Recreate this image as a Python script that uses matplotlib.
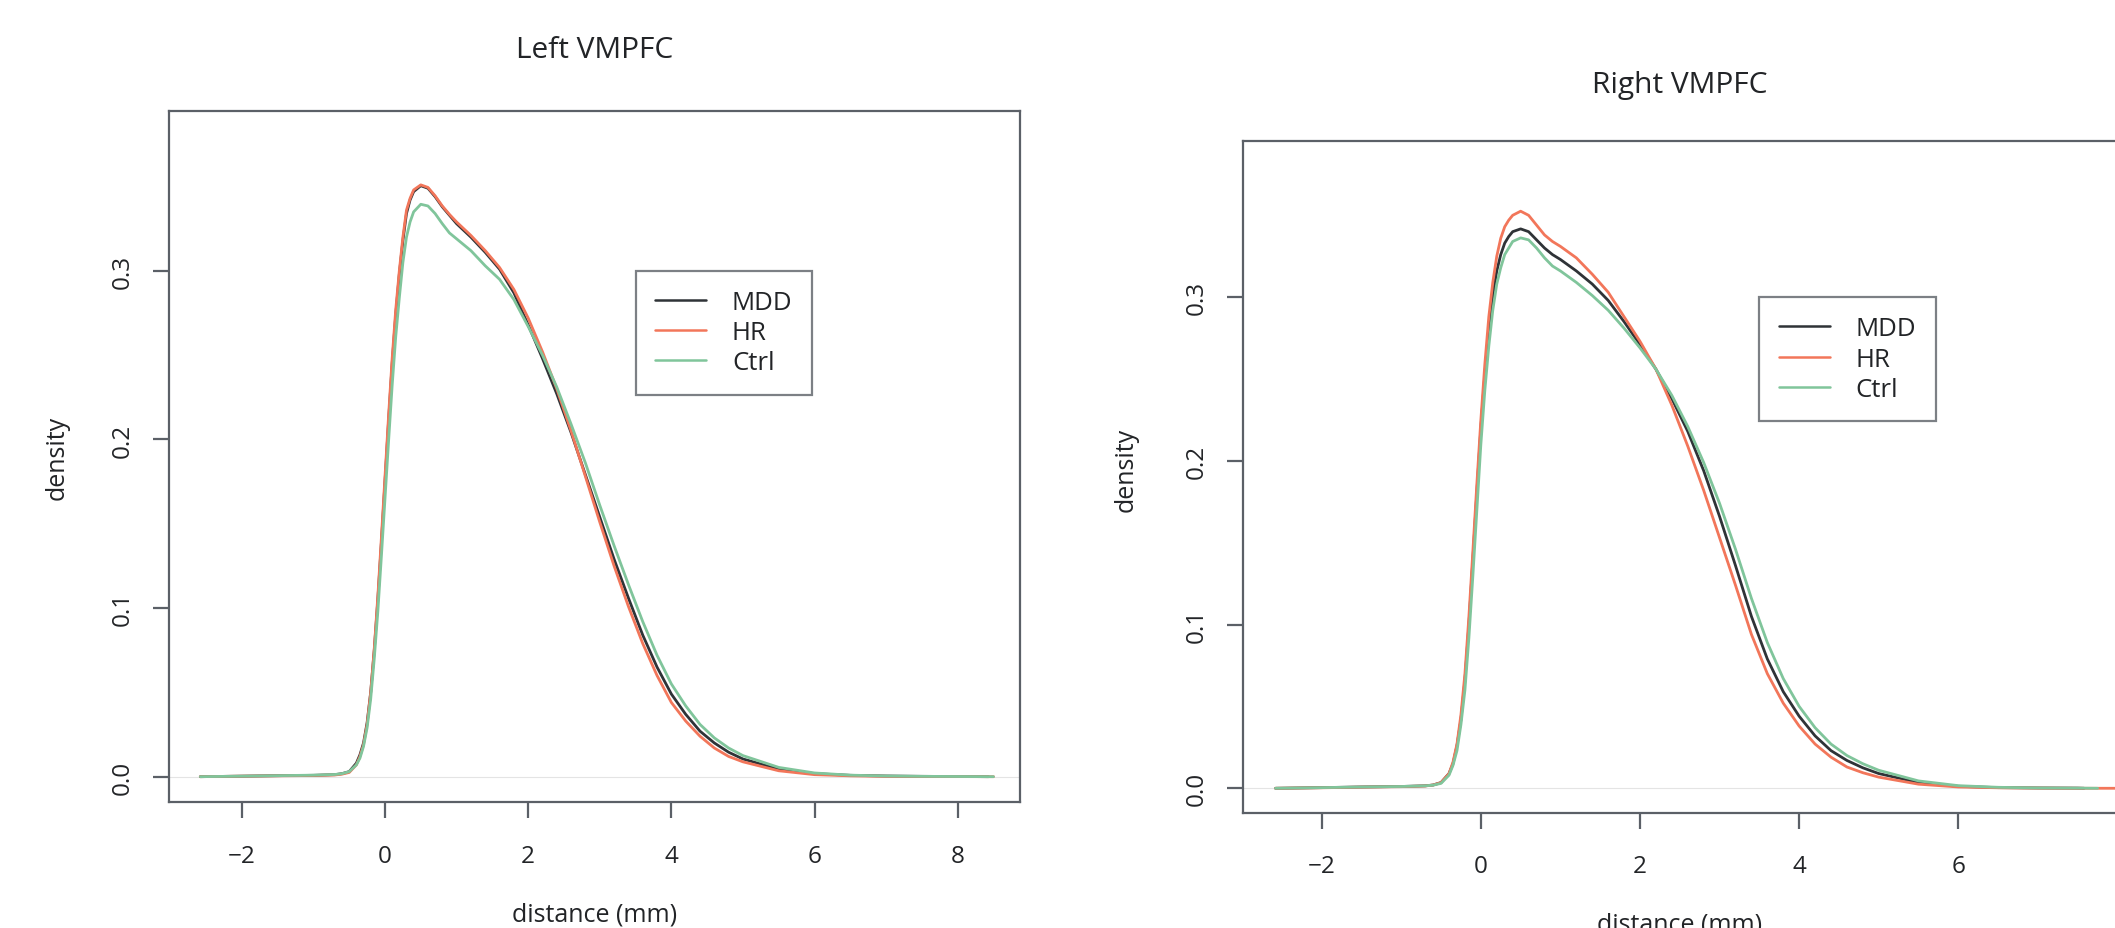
import matplotlib
matplotlib.use("Agg")
import matplotlib.pyplot as plt

plt.rcParams['font.family'] = ['Open Sans', 'DejaVu Sans']

# ---------------- data ----------------
groups = ["MDD", "HR", "Ctrl"]
colors = {"MDD": "#2f3337", "HR": "#f2765a", "Ctrl": "#80c59b"}

grid = [-2.58, -2.0, -1.5, -1.0, -0.7, -0.6, -0.5, -0.4, -0.35, -0.3,
        -0.25, -0.2, -0.15, -0.1, -0.05, 0.0, 0.05, 0.1, 0.15, 0.2,
        0.25, 0.3, 0.35, 0.4, 0.5, 0.6, 0.7, 0.8, 0.9,
        1.0, 1.2, 1.4, 1.6, 1.8, 2.0, 2.2, 2.4, 2.6, 2.8,
        3.0, 3.2, 3.4, 3.6, 3.8, 4.0, 4.2, 4.4, 4.6, 4.8,
        5.0, 5.5, 6.0, 6.5, 7.0, 7.5]

left_end = {"MDD": 8.43, "HR": 8.50, "Ctrl": 8.50}
right_end = {"MDD": 7.58, "HR": 8.60, "Ctrl": 7.75}

left_mdd = [0.0, 0.0003, 0.0006, 0.0008, 0.0012, 0.0018, 0.003, 0.008, 0.013, 0.020,
            0.032, 0.050, 0.075, 0.105, 0.139, 0.175, 0.211, 0.245, 0.274, 0.298,
            0.318, 0.334, 0.342, 0.347, 0.3505, 0.349, 0.344, 0.338, 0.333,
            0.328, 0.320, 0.311, 0.301, 0.287, 0.268, 0.248, 0.227, 0.204, 0.179,
            0.154, 0.129, 0.106, 0.084, 0.065, 0.049, 0.037, 0.027, 0.020, 0.0145,
            0.0105, 0.0045, 0.0018, 0.0008, 0.0004, 0.0002, 0.0]
left_hr = [0.0, 0.0003, 0.0005, 0.0007, 0.0010, 0.0015, 0.0025, 0.007, 0.012, 0.019,
           0.031, 0.050, 0.076, 0.107, 0.142, 0.178, 0.214, 0.248, 0.277, 0.300,
           0.320, 0.336, 0.343, 0.348, 0.351, 0.3495, 0.3445, 0.3385, 0.3335,
           0.329, 0.321, 0.312, 0.302, 0.289, 0.272, 0.252, 0.230, 0.205, 0.178,
           0.151, 0.125, 0.101, 0.079, 0.060, 0.044, 0.033, 0.024, 0.017, 0.012,
           0.0088, 0.0035, 0.0012, 0.0005, 0.0002, 0.0001, 0.0]
left_ctrl = [0.0, 0.0003, 0.0006, 0.0009, 0.0013, 0.0018, 0.003, 0.007, 0.011, 0.018,
             0.029, 0.046, 0.070, 0.098, 0.131, 0.165, 0.199, 0.232, 0.261, 0.284,
             0.305, 0.320, 0.329, 0.335, 0.3395, 0.3385, 0.334, 0.328, 0.3225,
             0.319, 0.312, 0.303, 0.295, 0.283, 0.267, 0.250, 0.231, 0.209, 0.186,
             0.161, 0.137, 0.114, 0.092, 0.072, 0.055, 0.042, 0.031, 0.023, 0.017,
             0.0125, 0.0055, 0.0022, 0.0009, 0.0004, 0.0002, 0.0]

right_mdd = [0.0, 0.0004, 0.0008, 0.0011, 0.0015, 0.0020, 0.0035, 0.009, 0.015, 0.026,
             0.042, 0.066, 0.100, 0.140, 0.181, 0.220, 0.253, 0.280, 0.301, 0.316,
             0.326, 0.333, 0.337, 0.340, 0.3417, 0.340, 0.335, 0.330, 0.326,
             0.323, 0.316, 0.308, 0.298, 0.285, 0.271, 0.256, 0.238, 0.218, 0.194,
             0.166, 0.136, 0.105, 0.079, 0.059, 0.044, 0.032, 0.023, 0.017, 0.0125,
             0.009, 0.0035, 0.0012, 0.0004, 0.0002, 0.0001, 0.0]
right_hr = [0.0, 0.0003, 0.0007, 0.0010, 0.0014, 0.0020, 0.0035, 0.009, 0.016, 0.027,
            0.045, 0.070, 0.105, 0.145, 0.186, 0.225, 0.259, 0.288, 0.309, 0.325,
            0.336, 0.343, 0.347, 0.350, 0.3525, 0.350, 0.344, 0.338, 0.334,
            0.331, 0.324, 0.314, 0.303, 0.288, 0.273, 0.256, 0.234, 0.209, 0.182,
            0.153, 0.124, 0.094, 0.070, 0.052, 0.038, 0.027, 0.019, 0.013, 0.0095,
            0.0068, 0.0025, 0.0008, 0.0003, 0.0001, 0.0, 0.0]
right_ctrl = [0.0, 0.0004, 0.0008, 0.0011, 0.0015, 0.0019, 0.003, 0.008, 0.014, 0.023,
              0.039, 0.060, 0.092, 0.130, 0.170, 0.210, 0.243, 0.270, 0.292, 0.308,
              0.318, 0.326, 0.330, 0.334, 0.3362, 0.335, 0.330, 0.324, 0.319,
              0.316, 0.309, 0.301, 0.292, 0.281, 0.269, 0.256, 0.240, 0.221, 0.199,
              0.174, 0.146, 0.116, 0.089, 0.067, 0.050, 0.037, 0.027, 0.020, 0.015,
              0.011, 0.0045, 0.0016, 0.0006, 0.0002, 0.0001, 0.0]

left_xticks = [-2, 0, 2, 4, 6, 8]
right_xticks = [-2, 0, 2, 4, 6]
y_ticks = [0.0, 0.1, 0.2, 0.3]
y_ticklabels = ["0.0", "0.1", "0.2", "0.3"]
titles = ["Left VMPFC", "Right VMPFC"]
xlabel = "distance (mm)"
ylabel = "density"

# ---------------- figure ----------------
W, H = 2115, 929
fig = plt.figure(figsize=(W / 100, H / 100), dpi=100)

spine_col = "#5b6067"
text_col = "#222427"


def px_axes(x0, y0, x1, y1):
    return fig.add_axes([x0 / W, 1 - y1 / H, (x1 - x0) / W, (y1 - y0) / H])


panels = [
    dict(box=(169.3, 111.7, 1020.0, 803.3), xlim=(-3.013, 8.870), ylim=(-0.0152, 0.395),
         data={"MDD": left_mdd, "HR": left_hr, "Ctrl": left_ctrl}, ends=left_end,
         xticks=left_xticks,
         title_xy=(594.7, 51), xlab_xy=(594.7, 915), ylab_xy=(56.7, 457.5)),
    dict(box=(1243.3, 142.3, 2116.7, 814.0), xlim=(-2.985, 7.99), ylim=(-0.0151, 0.3952),
         data={"MDD": right_mdd, "HR": right_hr, "Ctrl": right_ctrl}, ends=right_end,
         xticks=right_xticks,
         title_xy=(1680, 85), xlab_xy=(1680, 925), ylab_xy=(1126, 470)),
]

for i, p in enumerate(panels):
    ax = px_axes(*p["box"])
    ax.set_xlim(*p["xlim"])
    ax.set_ylim(*p["ylim"])
    ax.axhline(0, color="#e4e4e4", lw=0.8, zorder=1)
    for g in groups:
        xs = grid + [p["ends"][g]]
        ax.plot(xs, p["data"][g], color=colors[g], lw=2.0, zorder=2, label=g,
                solid_joinstyle="round", solid_capstyle="round")
    for s in ax.spines.values():
        s.set_color(spine_col)
        s.set_linewidth(1.6)
    ax.set_xticks(p["xticks"])
    ax.set_xticklabels([str(t).replace("-", "\u2212") for t in p["xticks"]])
    ax.set_yticks(y_ticks)
    ax.set_yticklabels(y_ticklabels, rotation=90, va="center")
    ax.tick_params(axis="both", direction="out", length=11.8, width=1.6,
                   color=spine_col, labelsize=17.5, labelcolor=text_col)
    ax.tick_params(axis="x", pad=18)
    ax.tick_params(axis="y", pad=13)
    leg = ax.legend(loc="upper left", bbox_to_anchor=(3.5, 0.3),
                    bbox_transform=ax.transData, fontsize=18.5, frameon=True,
                    fancybox=False, borderpad=0.75, handlelength=2.0,
                    handletextpad=1.0, labelspacing=0.2, borderaxespad=0)
    leg.get_frame().set_edgecolor(spine_col)
    leg.get_frame().set_linewidth(1.6)
    for ln in leg.get_lines():
        ln.set_linewidth(1.8)
    for t in leg.get_texts():
        t.set_color(text_col)

    tx, ty = p["title_xy"]
    fig.text(tx / W, 1 - ty / H, titles[i], ha="center", va="center",
             fontsize=21.5, color=text_col)
    lx, ly = p["xlab_xy"]
    fig.text(lx / W, 1 - ly / H, xlabel, ha="center", va="center",
             fontsize=18, color=text_col)
    yx, yy = p["ylab_xy"]
    fig.text(yx / W, 1 - yy / H, ylabel, ha="center", va="center",
             rotation=90, fontsize=18, color=text_col)

fig.savefig("out.png", dpi=100, facecolor="white")
